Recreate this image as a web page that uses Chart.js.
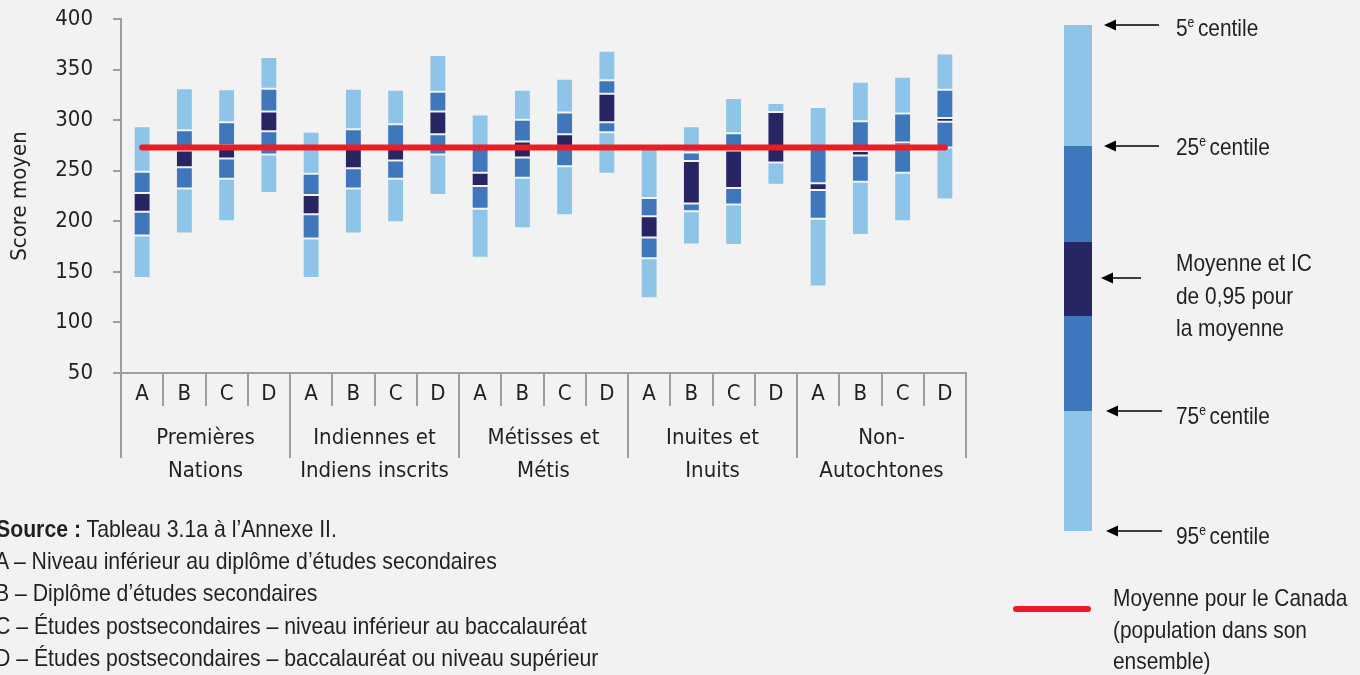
<!DOCTYPE html>
<html><head><meta charset="utf-8">
<script src="https://cdn.jsdelivr.net/npm/chart.js@4.4.1/dist/chart.umd.min.js"></script>
<style>
html,body{margin:0;padding:0;background:#f2f2f2;}
#wrap{position:relative;width:1360px;height:675px;overflow:hidden;background:#f2f2f2;color:#231f20;}
#c{position:absolute;left:0;top:0;}
.t{position:absolute;font-family:'Liberation Sans',Arial,sans-serif;font-size:24px;line-height:24px;white-space:nowrap;transform:scaleX(0.87);transform-origin:0 0;}
.f{transform:scaleX(0.885);}
.sup{font-size:14px;position:relative;top:-9px;margin-right:4px;}
.seg{position:absolute;left:1064px;width:28px;}
svg{position:absolute;left:0;top:0;}
</style></head><body>
<div id="wrap">
<canvas id="c" width="1360" height="675"></canvas>

<div class="seg" style="top:25px;height:121px;background:#8dc4e7"></div>
<div class="seg" style="top:146px;height:96px;background:#3e77bc"></div>
<div class="seg" style="top:242px;height:74px;background:#282563"></div>
<div class="seg" style="top:316px;height:95px;background:#3e77bc"></div>
<div class="seg" style="top:411px;height:120px;background:#8dc4e7"></div>

<svg width="1360" height="675">
  <g stroke="#000" stroke-width="1.5" fill="none">
    <line x1="1112" y1="25" x2="1159" y2="25"/>
    <line x1="1112" y1="146" x2="1159" y2="146"/>
    <line x1="1109" y1="278" x2="1141" y2="278"/>
    <line x1="1114" y1="411" x2="1162" y2="411"/>
    <line x1="1114" y1="531" x2="1162" y2="531"/>
  </g>
  <g fill="#000">
    <polygon points="1104,25 1116,19.5 1116,30.5"/>
    <polygon points="1104,146 1116,140.5 1116,151.5"/>
    <polygon points="1101,278 1113,272.5 1113,283.5"/>
    <polygon points="1106,411 1118,405.5 1118,416.5"/>
    <polygon points="1106,531 1118,525.5 1118,536.5"/>
  </g>
</svg>

<div class="t" style="left:1176px;top:16px">5<span class="sup">e</span>centile</div>
<div class="t" style="left:1176px;top:135px">25<span class="sup">e</span>centile</div>
<div class="t" style="left:1176px;top:251px">Moyenne et IC</div>
<div class="t" style="left:1176px;top:284px">de 0,95 pour</div>
<div class="t" style="left:1176px;top:316px">la moyenne</div>
<div class="t" style="left:1176px;top:404px">75<span class="sup">e</span>centile</div>
<div class="t" style="left:1176px;top:524px">95<span class="sup">e</span>centile</div>

<div style="position:absolute;left:1013px;top:606px;width:78px;height:6px;border-radius:3px;background:#ed1c24"></div>
<div class="t" style="left:1113px;top:586px">Moyenne pour le Canada</div>
<div class="t" style="left:1113px;top:618px">(population dans son</div>
<div class="t" style="left:1113px;top:649px">ensemble)</div>

<div class="t f" style="left:-4px;top:517px"><b>Source :</b> Tableau 3.1a à l’Annexe II.</div>
<div class="t f" style="left:-5px;top:549px">A – Niveau inférieur au diplôme d’études secondaires</div>
<div class="t f" style="left:-5px;top:581px">B – Diplôme d’études secondaires</div>
<div class="t f" style="left:-5px;top:614px">C – Études postsecondaires – niveau inférieur au baccalauréat</div>
<div class="t f" style="left:-5px;top:646px">D – Études postsecondaires – baccalauréat ou niveau supérieur</div>
</div>

<script>
// ---- data ----
const levels = ['A', 'B', 'C', 'D'];
const groups = [
  ['Premières', 'Nations'],
  ['Indiennes et', 'Indiens inscrits'],
  ['Métisses et', 'Métis'],
  ['Inuites et', 'Inuits'],
  ['Non-', 'Autochtones']
];
// bottom to top of each bar
const p5     = [144, 188, 200, 228,   144, 188, 199, 226,   164, 193, 206, 247,   124, 177, 176.5, 236,   135.5, 186.5, 200, 221.5];
const p25    = [186, 232.5, 242, 266, 183, 232.5, 242, 266, 212.5, 243, 254.5, 288, 163.5, 210, 216.5, 258, 202.5, 239, 248, 273];
const ciLow  = [209.5, 253.5, 262, 289, 207, 252.5, 260, 286, 235, 263, 273, 298, 184, 217.5, 233, 258, 231, 265, 275, 298.5];
const ciHigh = [228, 270, 275, 308.5, 226, 273, 272, 308.5, 248, 279, 286, 326, 205, 259.5, 270, 308, 237.5, 269.5, 278, 302];
const p75    = [249, 290, 298, 331,   247, 291, 296, 328,   272, 300.5, 307.5, 339.5, 223, 268, 287, 308, 273, 299, 306.5, 330];
const p95    = [294, 331.5, 330.5, 362.5, 288.5, 331, 330, 364.5, 305.5, 330, 341, 368.5, 272, 294, 322, 317, 313, 338, 343, 366];
const canadaMean = 273;
const yTicks = [50, 100, 150, 200, 250, 300, 350, 400];

// ---- styling ----
const LIGHT = '#8dc4e7', MID = '#3e77bc', DARK = '#282563', RED = '#ed1c24';
const AX = '#9e9e9e', TXT = '#231f20';
const FONT = "'DejaVu Sans Condensed','Liberation Sans',sans-serif";

const labels = groups.flatMap(() => levels);
const segs = [
  [p5, p25, LIGHT], [p25, ciLow, MID], [ciLow, ciHigh, DARK], [ciHigh, p75, MID], [p75, p95, LIGHT]
];
const barSets = segs.map(([lo, hi, col]) => ({
  type: 'bar',
  data: lo.map((v, i) => [v, hi[i]]),
  backgroundColor: col,
  borderColor: 'rgba(255,255,255,0.18)',
  borderWidth: 1,
  borderSkipped: false,
  grouped: false,
  barPercentage: 0.4,
  categoryPercentage: 1,
  order: 2
}));
const lineSet = {
  type: 'line',
  data: labels.map(() => canadaMean),
  borderColor: RED,
  borderWidth: 6,
  borderCapStyle: 'round',
  pointRadius: 0,
  fill: false,
  order: 0
};

new Chart(document.getElementById('c'), {
  data: { labels, datasets: [lineSet, ...barSets] },
  options: {
    responsive: false,
    animation: false,
    layout: { padding: { top: 19, right: 394, bottom: 0, left: 0 } },
    plugins: { legend: { display: false }, tooltip: { enabled: false } },
    scales: {
      x: {
        type: 'category', offset: true,
        grid: { offset: true, drawOnChartArea: false, drawTicks: true, tickLength: 33, color: AX, lineWidth: 2 },
        border: { color: AX, width: 2 },
        ticks: { padding: -25, color: TXT, font: { family: FONT, size: 22 }, maxRotation: 0, autoSkip: false },
        afterFit: s => { s.height = 33; }
      },
      x2: {
        type: 'category', labels: groups, position: 'bottom', offset: true,
        grid: { offset: true, drawOnChartArea: false, drawTicks: true, tickLength: 52, color: AX, lineWidth: 2 },
        border: { display: false },
        ticks: { padding: -36, color: TXT, font: { family: FONT, size: 22, lineHeight: 1.5 }, maxRotation: 0, autoSkip: false },
        afterFit: s => { s.height = 269; }
      },
      y: {
        min: yTicks[0], max: yTicks[yTicks.length - 1],
        afterBuildTicks: s => { s.ticks = yTicks.map(v => ({ value: v })); },
        ticks: { padding: 20, color: TXT, font: { family: FONT, size: 22 } },
        grid: { drawOnChartArea: false, tickLength: 8, color: AX, lineWidth: 2 },
        border: { color: AX, width: 2 },
        title: { display: true, text: 'Score moyen', color: TXT, font: { family: FONT, size: 22 }, padding: { top: 7, bottom: 0 } },
        afterFit: s => { s.width = 121; s.paddingTop = 0; s.paddingBottom = 0; }
      }
    }
  }
});
</script>
</body></html>
